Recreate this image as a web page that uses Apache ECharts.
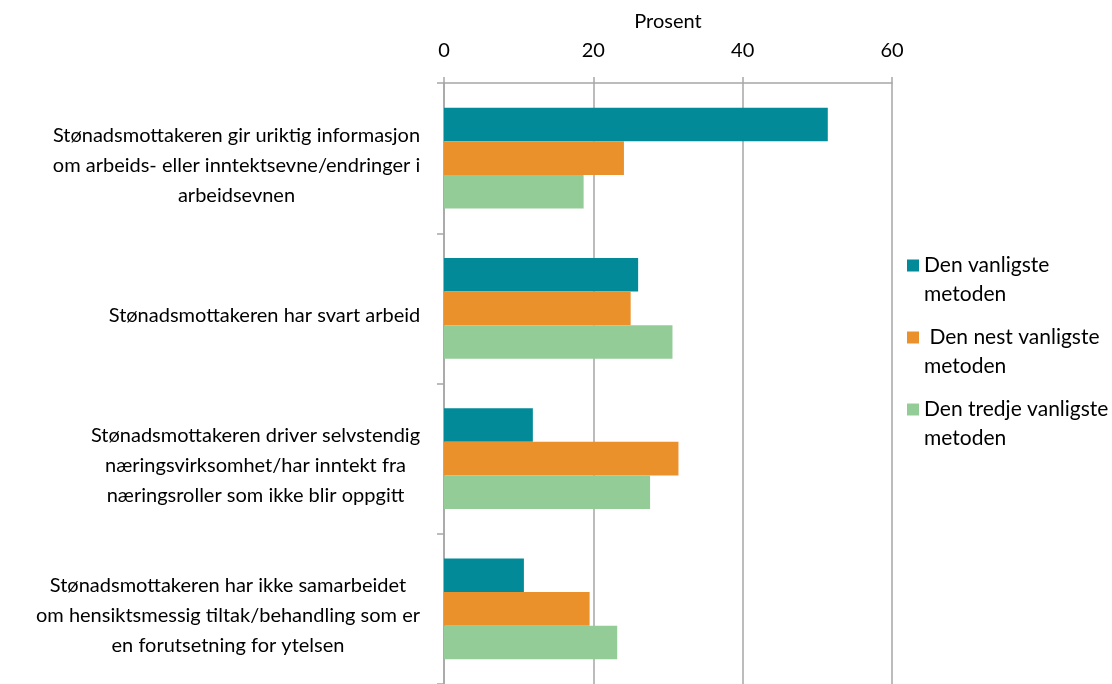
<!DOCTYPE html>
<html><head><meta charset="utf-8">
<script src="https://cdn.jsdelivr.net/npm/echarts@6/dist/echarts.min.js"></script>
<style>html,body{margin:0;padding:0;background:#fff}#c{width:1112px;height:684px}</style>
</head><body><div id="c"></div>
<script>
const categories = [
  "Stønadsmottakeren gir uriktig informasjon\nom arbeids- eller inntektsevne/endringer i\narbeidsevnen",
  "Stønadsmottakeren har svart arbeid",
  "Stønadsmottakeren driver selvstendig\nnæringsvirksomhet/har inntekt fra\nnæringsroller som ikke blir oppgitt",
  "Stønadsmottakeren har ikke samarbeidet\nom hensiktsmessig tiltak/behandling som er\nen forutsetning for ytelsen"
];
const seriesNames = ["Den vanligste metoden", " Den nest vanligste metoden", "Den tredje vanligste metoden"];
const vanligste = [51.4, 26.0, 11.9, 10.7];
const nestVanligste = [24.1, 25.0, 31.4, 19.5];
const tredjeVanligste = [18.7, 30.6, 27.6, 23.2];
const xTicks = [0, 20, 40, 60];
const colors = ['#028A99', '#EA912C', '#94CC97'];

const FONT = 'Lato';
const FS = 20;
const ctx = document.createElement('canvas').getContext('2d');
ctx.font = FS + 'px ' + FONT;
const rich = {};
categories.forEach((c, i) => {
  const w = Math.max(...c.split('\n').map(l => ctx.measureText(l).width));
  rich['c' + i] = { width: Math.ceil(w) + 1, align: 'center', fontFamily: FONT, fontSize: FS, lineHeight: 30, color: '#000' };
});

const chart = echarts.init(document.getElementById('c'));
const dataSets = [vanligste, nestVanligste, tredjeVanligste];
chart.setOption({
  animation: false,
  textStyle: { fontFamily: FONT },
  grid: { left: 444, right: 220, top: 83, height: 604, containLabel: false },
  xAxis: {
    type: 'value', position: 'top',
    min: xTicks[0], max: xTicks[xTicks.length - 1], interval: xTicks[1] - xTicks[0],
    name: 'Prosent', nameLocation: 'middle', nameGap: 51,
    nameTextStyle: { fontFamily: FONT, fontSize: 20, color: '#000' },
    axisLine: { show: true, lineStyle: { color: '#A6A6A6', width: 1.5 } },
    axisTick: { show: true, length: 6, lineStyle: { color: '#A6A6A6', width: 1.5 } },
    axisLabel: { margin: 22, fontFamily: FONT, fontSize: 20, color: '#000' },
    splitLine: { show: true, lineStyle: { color: '#A6A6A6', width: 1.5 } }
  },
  yAxis: {
    type: 'category', inverse: true, data: categories,
    axisLine: { show: true, lineStyle: { color: '#A6A6A6', width: 1.5 } },
    axisTick: { show: true, length: 7, lineStyle: { color: '#A6A6A6', width: 1.5 } },
    axisLabel: {
      margin: 23, align: 'right', padding: [14, 0, 0, 0],
      formatter: (v, i) => v.split('\n').map(l => '{c' + i + '|' + l + '}').join('\n'),
      rich: rich
    }
  },
  legend: {
    orient: 'vertical', left: 907, top: 222, padding: 0,
    itemWidth: 12, itemHeight: 12, itemGap: -15,
    icon: 'rect',
    data: seriesNames,
    formatter: n => '\n' + n.replace(/ metoden$/, '\nmetoden'),
    textStyle: { fontFamily: FONT, fontSize: 21, lineHeight: 29, color: '#000' }
  },
  series: dataSets.map((d, i) => ({
    name: seriesNames[i], type: 'bar', data: d,
    barGap: '0%', barCategoryGap: '33%',
    itemStyle: { color: colors[i] }
  }))
});
</script></body></html>
